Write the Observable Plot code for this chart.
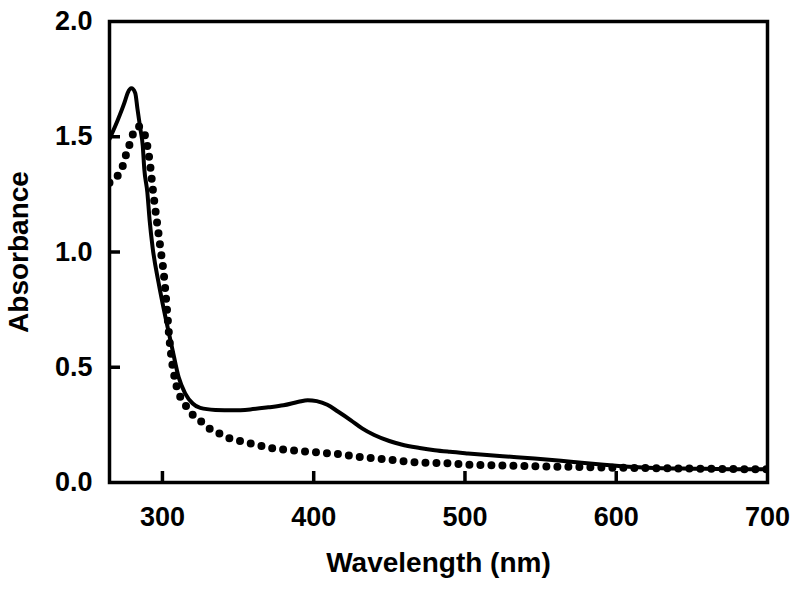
<!DOCTYPE html>
<html>
<head>
<meta charset="utf-8">
<script src="https://cdn.jsdelivr.net/npm/d3@7"></script>
<script src="https://cdn.jsdelivr.net/npm/@observablehq/plot@0.6"></script>
<style>
  html, body { margin: 0; padding: 0; background: #fff; }
  #chart { width: 800px; height: 591px; }
</style>
</head>
<body>
<div id="chart"></div>
<script>
// Solid spectrum
const solidWl  = [265, 270, 275, 277, 279.5, 282, 283.5, 285.5, 287, 288, 290, 291.5, 293.5, 297.5, 302, 306.7, 310.7, 315, 320, 325, 335, 347, 358, 370, 380, 390, 396, 402, 409, 416, 424.6, 432, 440, 450, 458, 470, 480, 490, 502, 525, 546, 570, 590, 612, 630, 650, 675, 700];
const solidAbs = [1.49, 1.565, 1.65, 1.69, 1.71, 1.69, 1.62, 1.53, 1.46, 1.36, 1.26, 1.14, 1.02, 0.865, 0.717, 0.574, 0.457, 0.387, 0.343, 0.324, 0.315, 0.313, 0.317, 0.326, 0.335, 0.35, 0.357, 0.353, 0.337, 0.308, 0.27, 0.235, 0.206, 0.18, 0.165, 0.15, 0.14, 0.133, 0.126, 0.114, 0.104, 0.09, 0.078, 0.067, 0.062, 0.06, 0.058, 0.057];

// Dotted spectrum
const dottedWl  = [265, 270.3, 273.6, 276.3, 279, 281.6, 284.3, 287, 290, 292, 293.5, 294.8, 296.8, 298.8, 300.8, 303, 304.5, 306, 308.7, 311.4, 315.3, 320.6, 326.6, 332, 338.5, 345, 351.6, 358, 373, 387, 403, 418, 433, 449, 469, 489, 500, 540, 590, 656, 700];
const dottedAbs = [1.30, 1.33, 1.37, 1.43, 1.48, 1.53, 1.545, 1.53, 1.46, 1.37, 1.28, 1.21, 1.11, 1.01, 0.91, 0.75, 0.63, 0.54, 0.435, 0.378, 0.335, 0.29, 0.26, 0.23, 0.21, 0.19, 0.18, 0.17, 0.148, 0.139, 0.13, 0.122, 0.109, 0.10, 0.087, 0.083, 0.078, 0.072, 0.065, 0.06, 0.057];

const xTickMarks  = [300, 400, 500, 600];
const xTickLabels = [300, 400, 500, 600, 700];
const yTickMarks  = [0.5, 1.0, 1.5];
const yTickLabels = [0.0, 0.5, 1.0, 1.5, 2.0];
const xDomain = [265, 700];
const yDomain = [0, 2];

const solid  = solidWl.map((w, i) => ({wl: w, abs: solidAbs[i]}));
const dotted = dottedWl.map((w, i) => ({wl: w, abs: dottedAbs[i]}));
const xTicks = xTickMarks.map(v => ({v}));
const yTicks = yTickMarks.map(v => ({v}));

const font = "'Liberation Sans', Arial, Helvetica, sans-serif";
const W = 800, H = 591, mL = 109, mR = 33, mT = 21, mB = 109, tickLen = 11;
const frameW = W - mL - mR, frameH = H - mT - mB;

const chart = Plot.plot({
  width: W, height: H,
  marginLeft: mL, marginRight: mR, marginTop: mT, marginBottom: mB,
  style: {fontFamily: font, fontWeight: "bold", background: "#fff", color: "#000"},
  x: {domain: xDomain},
  y: {domain: yDomain},
  marks: [
    // inward ticks: full-span rules, dashed so only the inner end near the axis shows
    Plot.ruleX(xTicks, {x: "v", stroke: "black", strokeWidth: 3.5, strokeDasharray: `0 ${frameH - tickLen} ${tickLen} ${frameH}`}),
    Plot.ruleY(yTicks, {y: "v", stroke: "black", strokeWidth: 3.5, strokeDasharray: `${tickLen} ${frameW * 2}`}),
    Plot.line(dotted, {x: "wl", y: "abs", curve: "monotone-x", stroke: "black", strokeWidth: 8, strokeLinecap: "round", strokeDasharray: "0 11", clip: true}),
    Plot.line(solid, {x: "wl", y: "abs", curve: "monotone-x", stroke: "black", strokeWidth: 4, clip: true}),
    // tick labels
    Plot.axisX(xTickLabels, {tickSize: 0, tickPadding: 24, fontSize: 27, fontWeight: "bold", label: null}),
    Plot.axisY(yTickLabels, {tickSize: 0, tickPadding: 17, fontSize: 27, fontWeight: "bold", tickFormat: d3.format(".1f"), label: null}),
    Plot.frame({stroke: "black", strokeWidth: 3.5}),
    Plot.text(["Wavelength (nm)"], {frameAnchor: "bottom", lineAnchor: "top", dy: 70, fontSize: 28, fontWeight: "bold", fill: "black"}),
    Plot.text(["Absorbance"], {frameAnchor: "left", textAnchor: "middle", lineAnchor: "top", rotate: -90, dx: -101, fontSize: 28, fontWeight: "bold", fill: "black"})
  ]
});
document.getElementById("chart").appendChild(chart);
</script>
</body>
</html>
